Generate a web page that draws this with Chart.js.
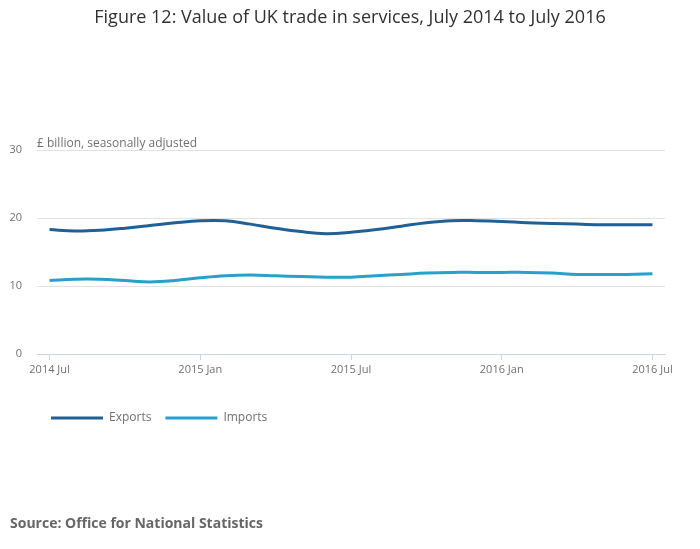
<!DOCTYPE html>
<html>
<head>
<meta charset="utf-8">
<script src="https://cdn.jsdelivr.net/npm/chart.js@4.4.1/dist/chart.umd.min.js"></script>
<style>
	html, body { margin: 0; padding: 0; background: #fff; }
	#wrap { width: 700px; height: 549px; position: relative; }
</style>
</head>
<body>
<div id="wrap"><canvas id="chart"></canvas></div>
<script>
var months = [
	"2014 Jul", "2014 Aug", "2014 Sep", "2014 Oct", "2014 Nov", "2014 Dec",
	"2015 Jan", "2015 Feb", "2015 Mar", "2015 Apr", "2015 May", "2015 Jun",
	"2015 Jul", "2015 Aug", "2015 Sep", "2015 Oct", "2015 Nov", "2015 Dec",
	"2016 Jan", "2016 Feb", "2016 Mar", "2016 Apr", "2016 May", "2016 Jun",
	"2016 Jul"
];
var exportsValues = [18.3, 18.1, 18.2, 18.5, 18.9, 19.3, 19.6, 19.6, 19.1, 18.5, 18.0, 17.7,
	17.9, 18.3, 18.8, 19.3, 19.6, 19.6, 19.5, 19.3, 19.2, 19.1, 19.0, 19.0, 19.0];
var importsValues = [10.8, 11.0, 11.0, 10.8, 10.6, 10.8, 11.2, 11.5, 11.6, 11.5, 11.4, 11.3,
	11.3, 11.5, 11.7, 11.9, 12.0, 12.0, 12.0, 12.0, 11.9, 11.7, 11.7, 11.7, 11.8];
var yTicks = [0, 10, 20, 30];
var unitText = "£ billion, seasonally adjusted";
var titleText = "Figure 12: Value of UK trade in services, July 2014 to July 2016";
var sourceText = "Source: Office for National Statistics";

var FONT = "'Open Sans', sans-serif";
var axisBlue = "#c8d5ea";

// unit label sitting just above the plot, left aligned with the gridlines
var unitLabel = {
	id: "unitLabel",
	afterDraw: function (chart) {
		var ctx = chart.ctx, area = chart.chartArea;
		ctx.save();
		ctx.font = "12px " + FONT;
		ctx.fillStyle = "#707070";
		ctx.textAlign = "left";
		ctx.textBaseline = "alphabetic";
		ctx.fillText(unitText, area.left, area.top - 3);
		ctx.restore();
	}
};

var chart = new Chart(document.getElementById("chart"), {
	type: "line",
	data: {
		labels: months,
		datasets: [
			{
				label: "Exports",
				data: exportsValues,
				borderColor: "#206095",
				backgroundColor: "#206095",
				borderWidth: 3,
				pointRadius: 0,
				tension: 0.4
			},
			{
				label: "Imports",
				data: importsValues,
				borderColor: "#27a0cc",
				backgroundColor: "#27a0cc",
				borderWidth: 3,
				pointRadius: 0,
				tension: 0.4
			}
		]
	},
	options: {
		responsive: true,
		maintainAspectRatio: false,
		animation: false,
		layout: { padding: { left: 10, right: 10, top: 0, bottom: 16.6 } },
		plugins: {
			title: {
				display: true,
				text: titleText,
				color: "#323132",
				font: { family: FONT, size: 18, weight: "normal" },
				padding: { top: 7, bottom: 121.4 }
			},
			subtitle: {
				display: true,
				position: "bottom",
				align: "start",
				text: sourceText,
				color: "#666666",
				font: { family: FONT, size: 14, weight: "bold" },
				padding: { top: 81.6, bottom: 0 }
			},
			legend: {
				display: true,
				position: "bottom",
				align: "start",
				fullSize: false,
				labels: {
					boxWidth: 52,
					boxHeight: 3,
					padding: 14,
					color: "#707070",
					font: { family: FONT, size: 12 },
					generateLabels: function (chart) {
						var items = Chart.defaults.plugins.legend.labels.generateLabels(chart);
						items.forEach(function (it) { it.lineWidth = 0; });
						return items;
					}
				}
			},
			tooltip: { enabled: false }
		},
		scales: {
			x: {
				type: "category",
				offset: true,
				afterFit: function (scale) { scale.height = 44; },
				grid: {
					offset: false,
					drawOnChartArea: false,
					drawTicks: true,
					tickLength: 6,
					tickColor: function (c) { return c.index % 6 === 0 ? axisBlue : "rgba(0,0,0,0)"; }
				},
				border: { display: true, color: axisBlue, width: 1 },
				ticks: {
					autoSkip: false,
					maxRotation: 0,
					padding: 3,
					color: "#707070",
					font: { family: FONT, size: 11 },
					callback: function (value, index) {
						return index % 6 === 0 ? this.getLabelForValue(value) : "";
					}
				}
			},
			y: {
				min: 0,
				max: 30,
				afterFit: function (scale) { scale.width = 27; },
				afterBuildTicks: function (scale) {
					scale.ticks = yTicks.map(function (v) { return { value: v }; });
				},
				grid: { color: "#e2e2e2", drawTicks: false },
				border: { display: false },
				ticks: {
					padding: 15,
					color: "#707070",
					font: { family: FONT, size: 11 }
				}
			},
			// empty right-hand spacer so the plot stops short of the edge
			spacer: {
				type: "linear",
				position: "right",
				afterFit: function (scale) { scale.width = 25; },
				grid: { display: false },
				border: { display: false },
				ticks: { display: false }
			}
		}
	},
	plugins: [unitLabel]
});
</script>
</body>
</html>
